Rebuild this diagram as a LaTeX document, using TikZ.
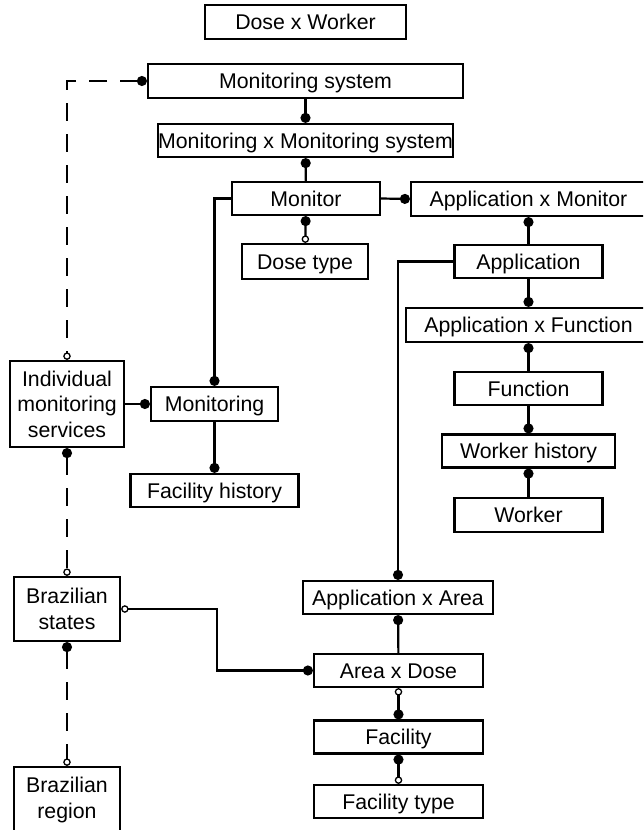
\documentclass[tikz,border=0pt]{standalone}
\usepackage{fontspec}
\setmainfont{Liberation Sans}
\usetikzlibrary{arrows.meta}
\begin{document}
\begin{tikzpicture}[x=1pt,y=-1pt,
  box/.style={draw, line width=2.2pt, inner sep=0pt,
    font=\fontsize{21.3}{26}\selectfont, text height=15.3pt, text depth=0pt},
  mbox/.style={draw, line width=2.2pt, inner sep=0pt, align=center,
    font=\fontsize{21.3}{25.5}\selectfont},
  conn/.style={line width=2.2pt},
  dashconn/.style={line width=2.2pt, dash pattern=on 18pt off 13pt},
  dotT/.tip={Circle[length=10pt,width=10pt]},
  oT/.tip={Circle[open,length=7.5pt,width=7.5pt,line width=1.3pt,fill=white]}
]
\useasboundingbox (0,0) rectangle (643,830);
\clip (0,0) rectangle (643,830);

% nodes
\node[box, minimum width=201pt, minimum height=34pt] (dw) at (305.5,22) {Dose x Worker};
\node[box, minimum width=315pt, minimum height=34pt] (ms) at (305.5,81) {Monitoring system};
\node[box, minimum width=295pt, minimum height=33pt] (mms) at (305.5,140.5) {Monitoring x Monitoring system};
\node[box, minimum width=148pt, minimum height=33pt] (mon) at (306,198.5) {Monitor};
\node[box, minimum width=235pt, minimum height=34pt] (axm) at (528.5,199) {Application x Monitor};
\node[box, minimum width=126pt, minimum height=35pt] (dt) at (305,261.5) {Dose type};
\node[box, minimum width=148pt, minimum height=33pt] (app) at (528.5,261.5) {Application};
\node[box, minimum width=245pt, minimum height=34pt] (axf) at (528.5,325) {Application x Function};
\node[box, minimum width=148pt, minimum height=33pt] (fn) at (528.5,388.5) {Function};
\node[box, minimum width=173pt, minimum height=33pt] (wh) at (528.5,451) {Worker history};
\node[box, minimum width=148pt, minimum height=34pt] (wk) at (528.5,515) {Worker};
\node[mbox, minimum width=114pt, minimum height=86pt] (ims) at (67,404) {Individual\\monitoring\\services};
\node[box, minimum width=127pt, minimum height=34pt] (mong) at (214.5,404) {Monitoring};
\node[box, minimum width=168pt, minimum height=33pt] (fh) at (214.5,490.5) {Facility history};
\node[box, minimum width=190pt, minimum height=33pt] (axa) at (398,597.5) {Application x Area};
\node[box, minimum width=169pt, minimum height=33pt] (axd) at (398.5,670.5) {Area x Dose};
\node[box, minimum width=169pt, minimum height=33pt] (fac) at (398.5,737) {Facility};
\node[box, minimum width=169pt, minimum height=33pt] (ft) at (398.5,801.5) {Facility type};
\node[mbox, minimum width=106pt, minimum height=64pt] (bs) at (67,609) {Brazilian\\states};
\node[mbox, minimum width=106pt, minimum height=66pt] (br) at (67,800) {Brazilian\\region};

\coordinate (bend) at (217,640);

% connectors
\draw[conn, -dotT] (ms) -- (mms);
\draw[conn, dotT-] (mms) -- (mon);
\draw[conn, dotT-oT] (mon) -- (dt);
\draw[conn, -dotT] (mon.west) -| (mong.north);
\draw[conn, -dotT] (mon.east) -- (axm.west);
\draw[conn, dotT-] (axm.south -| app.north) -- (app.north);
\draw[conn, -dotT] (app) -- (axf);
\draw[conn, dotT-] (axf) -- (fn);
\draw[conn, -dotT] (fn) -- (wh);
\draw[conn, dotT-] (wh) -- (wk);
\draw[conn, -dotT] (app.west) -| (axa.north);
\draw[conn, dotT-] (axa) -- (axd);
\draw[conn, oT-dotT] (axd) -- (fac);
\draw[conn, dotT-oT] (fac) -- (ft);
\draw[conn, -dotT] (mong) -- (fh);
\draw[conn, -dotT] (ims.east) -- (mong.west);
\draw[conn, oT-dotT] (bs.east) -| (bend) |- (axd.west);
\draw[dashconn, dotT-oT] (ms.west) -| (ims.north);
\draw[dashconn, dotT-oT] (ims.south) -- (bs.north);
\draw[dashconn, dotT-oT] (bs.south) -- (br.north);
\end{tikzpicture}
\end{document}
